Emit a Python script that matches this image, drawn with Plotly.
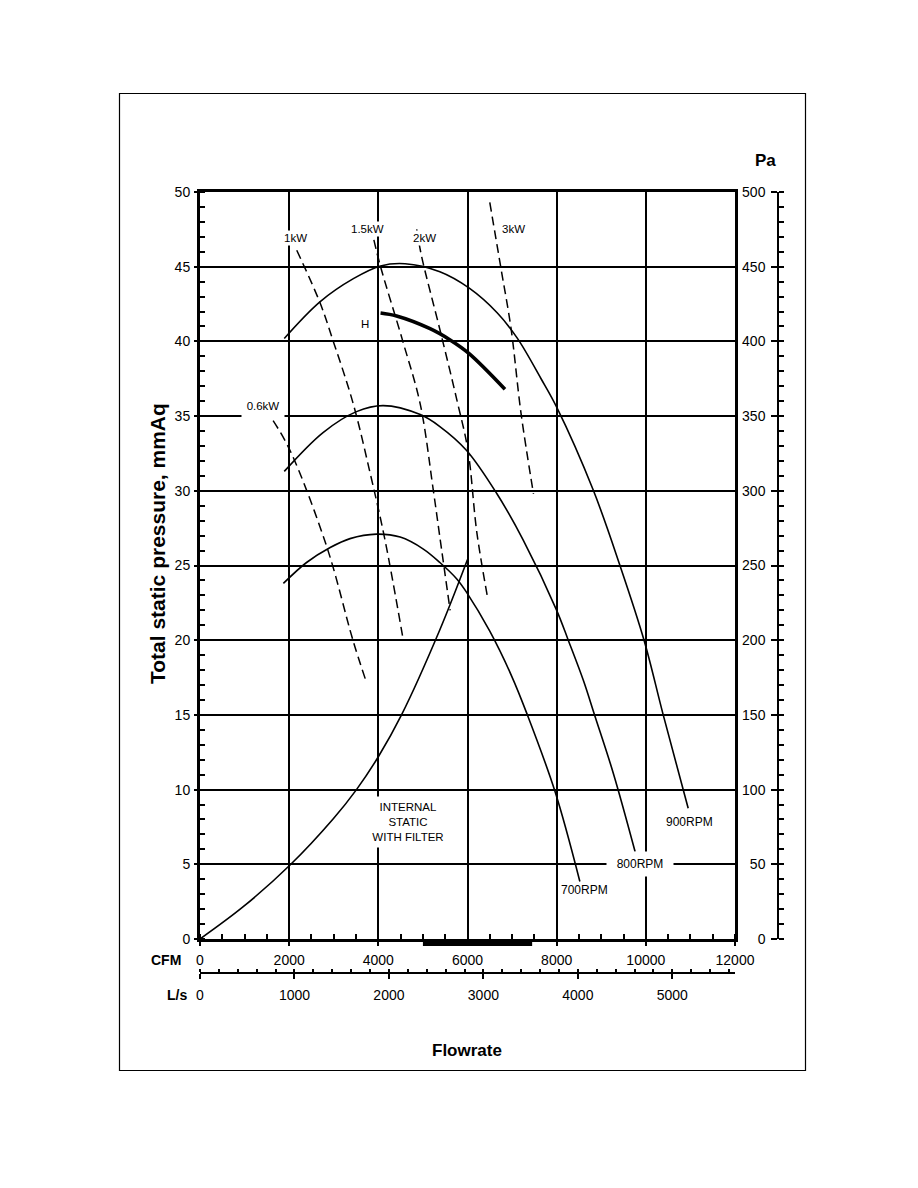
import plotly.graph_objects as go

# ---------------- data ----------------
cfm_major = [0, 2000, 4000, 6000, 8000, 10000, 12000]
ls_major = [0, 1000, 2000, 3000, 4000, 5000]
mmaq_major = [0, 5, 10, 15, 20, 25, 30, 35, 40, 45, 50]
pa_major = [0, 50, 100, 150, 200, 250, 300, 350, 400, 450, 500]
CFM_PER_LS = 2.11888

rpm900_cfm = [1890, 2690, 3440, 4050, 4600, 5380, 6040, 6670, 7120, 7650, 8000, 8820, 9420, 9960, 10390, 10950]
rpm900_p = [40.2, 42.65, 44.2, 45.05, 45.2, 44.66, 43.56, 41.9, 40.2, 37.5, 35.6, 30.05, 25.0, 20.0, 15.0, 8.75]

rpm800_cfm = [1890, 2760, 3510, 4110, 4940, 5380, 5980, 6660, 7250, 8000, 8260, 8600, 8850, 9270, 9760]
rpm800_p = [31.3, 33.9, 35.3, 35.7, 35.1, 34.3, 32.7, 29.8, 26.7, 22.0, 20.0, 17.3, 15.0, 11.1, 5.84]

rpm700_cfm = [1870, 2390, 2920, 3365, 3960, 4490, 5010, 5380, 5760, 5980, 6500, 6990, 7330, 7960, 8520]
rpm700_p = [23.8, 25.2, 26.2, 26.8, 27.1, 26.9, 26.1, 25.2, 24.1, 23.2, 20.6, 17.6, 15.1, 9.9, 3.85]

system_cfm = [0, 970, 2020, 2990, 3510, 4000, 4520, 5380, 6000]
system_p = [0, 2.16, 4.95, 8.05, 10.0, 12.2, 15.0, 20.7, 25.4]

h_cfm = [4050, 4410, 5160, 5610, 6030, 6840]
h_p = [41.9, 41.7, 40.85, 40.1, 39.2, 36.8]

kw06_cfm = [1640, 2020, 2850, 3430, 3720]
kw06_p = [34.7, 32.7, 26.2, 20.0, 17.3]

kw1_cfm = [2170, 2690, 2990, 3430, 3815, 4150, 4560]
kw1_p = [46.1, 42.6, 40.0, 35.9, 31.2, 26.7, 20.0]

kw15_cfm = [3900, 4050, 4550, 4940, 5235, 5380, 5610]
kw15_p = [46.8, 45.0, 40.0, 35.8, 30.0, 26.9, 22.0]

kw2_cfm = [4860, 4970, 5380, 5760, 6010, 6210, 6460]
kw2_p = [47.5, 45.7, 40.8, 36.1, 32.7, 27.2, 22.7]

kw3_cfm = [6500, 6750, 6975, 7200, 7480]
kw3_p = [49.3, 44.9, 40.9, 35.2, 29.8]

fan_range_cfm = [5000, 7450]

# ---------------- layout geometry ----------------
W, H = 918, 1188
ML, MR, MT, MB = 120, 120, 150, 150
FONT = "Liberation Sans, Arial, sans-serif"


def ux(px):
    return (px - ML) / (W - ML - MR)


def vy(py):
    return (H - MB - py) / (H - MT - MB)


XDOM = [ux(200), ux(735)]
YDOM = [vy(939), vy(192)]

fig = go.Figure()


def curve(x, y, width=1.5, dash=None):
    fig.add_trace(go.Scatter(
        x=x, y=y, mode="lines", line_shape="spline",
        line=dict(color="black", width=width, dash=dash, smoothing=1.0),
        hoverinfo="skip", showlegend=False))


for xs, ys in [(kw06_cfm, kw06_p), (kw1_cfm, kw1_p), (kw15_cfm, kw15_p),
               (kw2_cfm, kw2_p), (kw3_cfm, kw3_p)]:
    curve(xs, ys, 1.5, "9px,5px")
for xs, ys in [(rpm900_cfm, rpm900_p), (rpm800_cfm, rpm800_p),
               (rpm700_cfm, rpm700_p), (system_cfm, system_p)]:
    curve(xs, ys, 1.6)
curve(h_cfm, h_p, 3.6)

# invisible helper traces so the extra axes are drawn
for xa, ya in [("x2", "y"), ("x3", "y"), ("x", "y2"), ("x", "y3")]:
    fig.add_trace(go.Scatter(x=[0], y=[0], xaxis=xa, yaxis=ya, mode="markers",
                             marker=dict(opacity=0), hoverinfo="skip",
                             showlegend=False))

tickfont = dict(family=FONT, size=14, color="black")

fig.update_layout(
    width=W, height=H,
    margin=dict(l=ML, r=MR, t=MT, b=MB, autoexpand=False),
    paper_bgcolor="white", plot_bgcolor="white",
    showlegend=False,
    xaxis=dict(
        domain=XDOM, range=[0, 12000], anchor="y",
        tickmode="linear", tick0=0, dtick=2000, tickformat="d",
        showgrid=True, gridcolor="black", gridwidth=1.5, zeroline=False,
        showline=True, linecolor="black", linewidth=3, mirror=True,
        ticks="outside", ticklen=4, tickwidth=1.5, tickcolor="black",
        minor=dict(dtick=500, tick0=0, ticks="inside", ticklen=5,
                   tickwidth=1.5, tickcolor="black", showgrid=False),
        tickfont=tickfont, ticklabelstandoff=2),
    yaxis=dict(
        domain=YDOM, range=[0, 50], anchor="x",
        tickmode="linear", tick0=0, dtick=5,
        showgrid=True, gridcolor="black", gridwidth=1.5, zeroline=False,
        showline=True, linecolor="black", linewidth=3, mirror=True,
        ticks="outside", ticklen=3, tickwidth=1.5, tickcolor="black",
        minor=dict(dtick=1, tick0=0, ticks="inside", ticklen=5,
                   tickwidth=1.5, tickcolor="black", showgrid=False),
        tickfont=tickfont, ticklabelstandoff=1),
    xaxis2=dict(
        domain=XDOM, range=[0, 12000 / CFM_PER_LS], overlaying="x",
        anchor="free", position=vy(973), side="bottom",
        tickmode="array", tickvals=ls_major, ticktext=[str(v) for v in ls_major],
        showgrid=False, zeroline=False,
        showline=True, linecolor="black", linewidth=1.5,
        ticks="outside", ticklen=5, tickwidth=1.5, tickcolor="black",
        minor=dict(dtick=200, tick0=0, ticks="inside", ticklen=3,
                   tickwidth=1.5, tickcolor="black", showgrid=False),
        tickfont=tickfont, ticklabelstandoff=4),
    xaxis3=dict(
        domain=XDOM, range=[0, 12000 / CFM_PER_LS], overlaying="x",
        anchor="free", position=vy(973), side="bottom",
        tickmode="array", tickvals=ls_major, showticklabels=False,
        showgrid=False, zeroline=False, showline=False,
        ticks="inside", ticklen=3, tickwidth=1.5, tickcolor="black"),
    yaxis2=dict(
        domain=YDOM, range=[0, 500], overlaying="y",
        anchor="free", position=ux(778), side="left",
        tickmode="array", tickvals=pa_major, ticktext=[str(v) for v in pa_major],
        showgrid=False, zeroline=False,
        showline=True, linecolor="black", linewidth=1.5,
        ticks="outside", ticklen=6, tickwidth=1.5, tickcolor="black",
        minor=dict(dtick=10, tick0=0, ticks="inside", ticklen=5,
                   tickwidth=1.5, tickcolor="black", showgrid=False),
        tickfont=tickfont, ticklabelstandoff=3),
    yaxis3=dict(
        domain=YDOM, range=[0, 500], overlaying="y",
        anchor="free", position=ux(778), side="left",
        tickmode="array", tickvals=pa_major, showticklabels=False,
        showgrid=False, zeroline=False, showline=False,
        ticks="inside", ticklen=5, tickwidth=1.5, tickcolor="black"),
)

# outer frame and fan-range bar
fig.add_shape(type="rect", xref="paper", yref="paper",
              x0=ux(119.5), x1=ux(805.5), y0=vy(1070.5), y1=vy(93.5),
              line=dict(color="black", width=1.2), fillcolor="rgba(0,0,0,0)")
fig.add_shape(type="rect", xref="x", yref="paper",
              x0=fan_range_cfm[0], x1=fan_range_cfm[1], y0=vy(946), y1=vy(939),
              line=dict(width=0), fillcolor="black")


def note(text, x, y, size=11.5, bg=None, pad=1, w=None, h=None, xref="x",
         yref="y", bold=False, angle=0, xanchor="center"):
    d = dict(text=("<b>%s</b>" % text) if bold else text, x=x, y=y,
             xref=xref, yref=yref, showarrow=False,
             font=dict(family=FONT, size=size, color="black"),
             xanchor=xanchor, yanchor="middle", borderpad=pad, textangle=angle)
    if bg:
        d["bgcolor"] = bg
    if w:
        d["width"] = w
    if h:
        d["height"] = h
    fig.add_annotation(**d)


# power and curve labels
note("0.6kW", 1413, 35.68, bg="white", pad=4, w=34, h=17)
note("1kW", 2153, 46.89, bg="white", pad=1)
note("1.5kW", 3757, 47.54, bg="white", pad=1)
note("2kW", 5031, 46.92, bg="white", pad=1)
note("3kW", 7030, 47.49)
note("H", 3712, 41.15)
note("900RPM", 10979, 7.83, size=12)
note("800RPM", 9858, 5.02, size=12, bg="white", pad=4, w=58, h=16)
note("700RPM", 8613, 3.28, size=12)
note("INTERNAL<br>STATIC<br>WITH FILTER", 4666, 7.83, size=11.5,
     bg="white", pad=4, w=74, h=42)

# axis titles
note("Total static pressure, mmAq", ux(157), vy(544), size=21, bold=True,
     angle=-90, xref="paper", yref="paper")
note("Pa", ux(765), vy(160), size=17, bold=True, xref="paper", yref="paper")
note("Flowrate", ux(467), vy(1050), size=17, bold=True, xref="paper", yref="paper")
note("CFM", ux(183), vy(960), size=14, bold=True, xref="paper", yref="paper",
     xanchor="right")
note("L/s", ux(188.5), vy(995), size=14, bold=True, xref="paper", yref="paper",
     xanchor="right")

fig.write_html("out.html")
